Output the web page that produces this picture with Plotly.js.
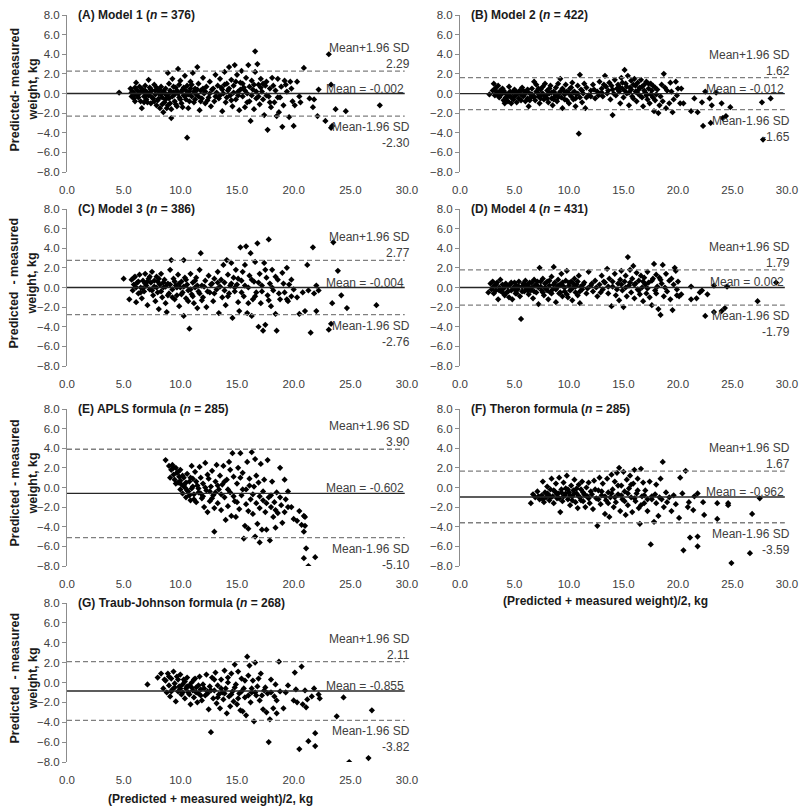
<!DOCTYPE html>
<html>
<head>
<meta charset="utf-8">
<script src="https://cdn.plot.ly/plotly-3.0.1.min.js"></script>
<style>
html,body{margin:0;padding:0;background:#fff;}
#chart{width:800px;height:808px;}
</style>
</head>
<body>
<div id="chart"></div>
<script>
// ---- Data ----
const panelLabels = ['(A) Model 1','(B) Model 2','(C) Model 3','(D) Model 4','(E) APLS formula','(F) Theron formula','(G) Traub-Johnson formula'];
const sampleSizes = [376, 422, 386, 431, 285, 285, 268];
const meanDiffs   = [-0.002, -0.012, -0.004, 0.002, -0.602, -0.962, -0.855];
const upperLimits = [2.29, 1.62, 2.77, 1.79, 3.90, 1.67, 2.11];
const lowerLimits = [-2.30, -1.65, -2.76, -1.79, -5.10, -3.59, -3.82];
const xTickVals = [0, 5, 10, 15, 20, 25, 30];
const yTickVals = [-8, -6, -4, -2, 0, 2, 4, 6, 8];
const yTitleFirstLines = ['Predicted- measured', 'Predicted  - measured', 'Predicted - measured', 'Predicted  - measured'];

const model1 = [[4.6,0.1],[5.6,0.5],[5.7,-0.3],[5.8,0.2],[5.9,-0.5],[6.0,0.6],[6.0,-0.1],[6.1,1.1],[6.2,0.3],[6.3,-0.4],[6.4,0.0],[6.5,-0.8],[6.6,0.5],[6.6,-1.5],[6.7,0.2],[6.8,-0.3],[6.9,0.8],[7.0,-0.6],[7.1,0.1],[7.2,1.4],[7.2,-0.2],[7.3,0.6],[7.4,-1.0],[7.5,0.3],[7.6,-0.5],[7.7,0.9],[7.8,-0.1],[7.9,-1.2],[8.0,0.4],[8.0,-0.7],[8.1,0.0],[8.2,-1.5],[8.3,0.7],[8.4,-0.4],[8.5,0.2],[8.5,-1.9],[8.6,-0.9],[8.7,0.5],[8.8,-0.2],[8.9,2.1],[8.9,-1.2],[9.0,1.0],[9.0,-0.5],[9.1,0.3],[9.2,-2.5],[9.2,-1.6],[9.3,1.5],[9.4,0.1],[9.5,-0.8],[9.6,0.6],[9.7,-1.3],[9.8,2.5],[9.8,0.0],[9.9,-0.4],[10.0,1.3],[10.1,-1.0],[10.2,0.4],[10.3,-0.2],[10.4,1.8],[10.5,-0.6],[10.6,-4.5],[10.6,0.8],[10.7,-1.5],[10.8,0.2],[10.9,1.2],[11.0,-0.3],[11.1,2.1],[11.2,-0.9],[11.3,0.5],[11.4,-0.1],[11.5,2.7],[11.6,1.0],[11.7,-1.7],[11.8,0.3],[11.9,-0.5],[12.0,1.6],[12.1,0.0],[12.2,-1.0],[12.3,0.7],[12.5,-0.4],[12.6,1.2],[12.7,-1.3],[12.8,0.4],[13.0,-0.8],[13.1,1.9],[13.2,0.1],[13.4,-0.5],[13.5,1.5],[13.6,0.6],[13.7,-1.8],[13.8,0.0],[13.9,2.2],[14.0,-0.9],[14.1,1.0],[14.2,0.3],[14.3,2.7],[14.4,-0.2],[14.5,1.4],[14.6,-1.3],[14.7,0.8],[14.8,2.9],[14.9,-0.6],[15.0,1.9],[15.1,0.2],[15.2,-1.7],[15.3,1.1],[15.4,2.3],[15.5,-0.3],[15.6,0.6],[15.7,-1.4],[15.8,1.6],[15.9,0.0],[16.0,2.9],[16.1,-0.8],[16.2,-2.8],[16.3,1.3],[16.4,0.4],[16.5,-1.6],[16.6,4.3],[16.6,2.2],[16.7,-0.5],[16.8,3.0],[16.9,0.9],[17.0,-1.1],[17.1,1.5],[17.2,0.2],[17.3,-0.6],[17.4,-2.2],[17.5,0.8],[17.6,1.2],[17.7,-3.7],[17.8,-0.3],[17.9,0.5],[18.0,-1.4],[18.1,1.6],[18.3,-0.9],[18.4,0.3],[18.5,-2.3],[18.6,1.5],[18.7,-1.9],[18.8,-0.4],[18.9,0.7],[19.0,-3.4],[19.1,-1.2],[19.2,1.3],[19.4,0.2],[19.6,-2.4],[19.7,1.2],[19.9,-0.8],[20.0,-3.3],[20.1,-1.2],[20.3,1.2],[20.5,-0.3],[20.6,-0.9],[20.9,2.6],[21.4,-0.5],[21.7,-1.4],[21.8,-0.6],[22.1,-2.3],[22.2,0.4],[22.8,-2.8],[23.1,4.0],[23.3,0.9],[23.3,-3.5],[23.4,-3.3],[23.7,-1.6],[24.6,-1.8],[27.6,-1.2],
  [5.7,0.1],[6.0,-0.8],[6.2,-0.2],[6.4,0.7],[6.5,0.2],[6.8,-0.9],[6.9,0.3],[7.0,-0.2],[7.1,-0.9],[7.3,0.0],[7.4,0.4],[7.5,-0.4],[7.7,-0.8],[7.8,0.3],[7.9,0.6],[8.1,-0.5],[8.2,0.4],[8.3,-0.1],[8.4,-1.1],[8.6,0.1],[8.7,-0.6],[8.8,-1.5],[9.0,0.0],[9.1,-1.0],[9.3,-0.3],[9.4,0.7],[9.5,-0.1],[9.6,-1.1],[9.7,0.3],[9.9,0.9],[10.0,-0.6],[10.1,0.2],[10.2,-1.4],[10.3,0.6],[10.4,-0.3],[10.5,0.3],[10.7,-0.1],[10.8,-0.8],[10.9,0.5],[11.0,0.9],[11.2,0.2],[11.3,-0.6],[11.5,0.4],[11.6,-0.3],[11.8,-0.8],[12.0,0.5],[12.2,0.2],[12.4,-0.7],[12.6,0.0],[12.9,0.5],[13.1,-0.3],[13.3,0.8],[13.5,-0.2],[13.7,0.4],[13.9,0.9],[14.1,-0.4],[14.3,0.5],[14.5,-0.7],[14.7,0.1],[14.9,1.2],[15.1,-0.2],[15.3,0.4],[15.5,1.0],[15.7,0.3],[15.9,-0.9],[16.1,0.7],[16.3,-0.2],[16.5,0.9],[16.7,0.2],[16.9,-0.3],[17.1,0.6],[17.3,1.0],[17.6,-0.2],[17.9,-0.9],[18.2,0.8],[18.6,-0.4],[19.3,0.9],[19.8,0.5]];

const model2 = [[2.7,-0.1],[3.0,0.3],[3.1,1.0],[3.2,-0.2],[3.3,0.6],[3.4,0.1],[3.5,0.8],[3.6,-0.4],[3.7,0.3],[3.8,-0.1],[3.9,0.5],[4.0,-0.7],[4.1,-1.0],[4.2,0.0],[4.3,-0.4],[4.4,-0.8],[4.5,0.7],[4.6,-0.3],[4.7,-1.0],[4.8,0.1],[4.9,-0.6],[5.0,0.4],[5.1,-0.2],[5.2,-0.9],[5.3,0.0],[5.4,-0.5],[5.5,0.3],[5.6,-0.7],[5.7,0.6],[5.8,-0.3],[5.9,-0.1],[6.0,-0.8],[6.1,0.2],[6.2,-0.5],[6.3,-1.3],[6.4,0.0],[6.5,-0.4],[6.6,0.5],[6.7,-0.2],[6.8,1.2],[6.9,-0.7],[7.0,0.9],[7.1,0.1],[7.2,-0.3],[7.3,-1.0],[7.4,0.4],[7.5,-0.1],[7.6,0.7],[7.7,-0.6],[7.8,1.0],[7.9,-0.2],[8.0,0.3],[8.1,-0.9],[8.2,0.0],[8.3,0.8],[8.4,-0.5],[8.5,-1.2],[8.6,0.2],[8.7,-0.3],[8.8,0.6],[8.9,-0.8],[9.0,1.0],[9.1,0.0],[9.2,1.5],[9.3,-0.4],[9.4,-1.5],[9.5,0.3],[9.6,-0.1],[9.7,0.9],[9.8,-0.7],[9.9,0.1],[10.0,-1.0],[10.1,0.5],[10.2,-0.3],[10.3,1.1],[10.4,-0.6],[10.5,0.2],[10.6,-1.3],[10.7,-0.1],[10.8,0.8],[10.9,-4.1],[11.0,1.9],[11.0,-0.4],[11.1,0.4],[11.2,-0.9],[11.3,0.0],[11.4,1.0],[11.5,-1.5],[11.6,0.6],[11.8,-0.2],[12.0,0.3],[12.2,0.9],[12.4,-0.5],[12.6,0.2],[12.8,1.2],[13.0,0.5],[13.1,-0.3],[13.3,1.8],[13.4,0.7],[13.5,0.0],[13.7,1.1],[13.8,-0.6],[14.0,-2.2],[14.0,0.4],[14.2,1.4],[14.3,-0.2],[14.5,0.9],[14.6,0.2],[14.7,-1.0],[14.8,1.6],[14.9,0.5],[15.0,-0.4],[15.1,2.4],[15.2,1.0],[15.3,0.0],[15.4,1.8],[15.5,-1.2],[15.6,0.6],[15.7,1.3],[15.8,-0.3],[15.9,0.9],[16.0,1.5],[16.1,0.2],[16.2,-0.8],[16.3,1.1],[16.4,0.4],[16.5,-0.2],[16.6,1.4],[16.7,0.7],[16.8,-1.3],[16.9,0.9],[17.0,0.1],[17.1,1.2],[17.2,-0.6],[17.3,0.5],[17.4,-1.0],[17.5,1.0],[17.6,0.3],[17.7,-0.4],[17.8,-1.8],[17.9,0.6],[18.0,-0.1],[18.2,-2.0],[18.3,-1.2],[18.5,0.9],[18.6,-0.8],[18.7,2.0],[18.9,-1.5],[19.0,0.3],[19.2,-1.0],[19.3,1.1],[19.5,-1.9],[19.6,-0.6],[19.8,1.2],[19.9,-0.2],[20.0,0.5],[20.2,-1.0],[20.3,0.5],[20.5,-1.0],[21.2,-1.8],[21.5,-0.5],[21.8,-1.9],[22.2,-0.9],[22.3,-3.3],[22.5,0.2],[22.9,-0.5],[23.0,-3.0],[23.1,-1.2],[23.5,0.1],[24.0,-1.0],[24.1,-2.5],[24.4,-2.3],[24.8,-1.4],[27.7,-0.9],[27.8,-4.7],[28.5,-0.5],
  [3.2,0.4],[3.5,-0.2],[3.8,0.2],[4.0,0.3],[4.2,-0.4],[4.4,-0.1],[4.6,0.2],[4.8,-0.5],[5.0,-0.3],[5.2,0.1],[5.4,0.2],[5.6,-0.1],[5.8,0.3],[6.0,0.0],[6.2,0.4],[6.4,-0.7],[6.6,-0.1],[6.8,-0.4],[7.0,0.2],[7.2,0.5],[7.4,-0.5],[7.6,0.0],[7.8,-0.3],[8.0,-0.5],[8.2,0.5],[8.4,0.1],[8.6,-0.6],[8.8,-0.1],[9.0,-0.4],[9.2,0.2],[9.4,0.5],[9.6,-0.6],[9.8,0.2],[10.0,0.0],[10.2,0.6],[10.4,0.1],[10.6,-0.5],[10.8,0.0],[11.2,0.3],[11.6,-0.4],[12.0,-0.3],[12.3,0.4],[12.7,-0.2],[13.0,0.1],[13.2,0.9],[13.6,0.3],[13.9,0.8],[14.1,0.0],[14.4,0.5],[14.7,0.6],[14.9,1.1],[15.1,0.3],[15.3,0.7],[15.5,0.1],[15.7,0.4],[15.9,-0.5],[16.1,0.8],[16.3,0.0],[16.5,0.6],[16.7,-0.4],[16.9,0.3],[17.1,-0.2],[17.3,1.0],[17.5,-0.1],[17.7,0.8],[17.9,-0.7],[18.1,0.4],[18.4,-0.3],[18.8,0.6],[19.4,0.2]];

const model3 = [[5.0,0.9],[5.5,-1.2],[5.7,0.8],[5.8,-0.3],[5.9,0.3],[6.0,1.1],[6.1,-1.5],[6.2,0.5],[6.3,-0.6],[6.4,1.3],[6.5,0.0],[6.6,-1.1],[6.7,0.7],[6.8,-0.4],[6.9,1.4],[7.0,0.2],[7.1,-1.8],[7.2,0.9],[7.3,-0.2],[7.4,0.5],[7.5,1.6],[7.6,-0.8],[7.7,0.1],[7.8,-1.4],[7.9,1.1],[8.0,-0.5],[8.0,0.6],[8.1,-2.2],[8.2,0.3],[8.3,1.4],[8.4,-1.0],[8.5,0.0],[8.6,0.8],[8.7,-1.6],[8.8,-2.5],[8.9,0.4],[9.0,-0.6],[9.1,1.8],[9.2,2.8],[9.3,-0.2],[9.4,0.9],[9.5,-1.2],[9.6,0.2],[9.7,-0.8],[9.8,1.3],[9.9,-1.9],[10.0,0.0],[10.1,0.6],[10.2,-0.5],[10.3,2.8],[10.3,-2.9],[10.4,1.0],[10.5,-1.1],[10.6,0.3],[10.7,-0.3],[10.8,-4.2],[10.9,1.4],[11.0,-0.7],[11.1,0.5],[11.2,-1.6],[11.3,0.0],[11.4,1.0],[11.5,-2.1],[11.6,-0.4],[11.7,1.8],[11.8,3.5],[11.9,0.2],[12.0,-1.0],[12.2,0.7],[12.3,-2.0],[12.5,1.2],[12.6,-0.5],[12.8,0.4],[12.9,-1.4],[13.0,0.9],[13.2,-0.2],[13.3,1.6],[13.4,-2.6],[13.5,0.1],[13.7,-1.0],[13.8,2.3],[13.9,0.5],[14.0,-1.8],[14.1,2.8],[14.2,1.3],[14.3,-0.6],[14.4,0.2],[14.5,2.5],[14.6,-3.1],[14.7,1.0],[14.8,-0.4],[14.9,1.8],[15.0,0.3],[15.1,-1.5],[15.2,-2.4],[15.3,4.1],[15.4,0.7],[15.5,1.6],[15.6,-0.9],[15.7,2.3],[15.8,4.2],[15.9,-2.6],[16.0,0.0],[16.1,1.2],[16.2,3.5],[16.3,-2.9],[16.4,-1.2],[16.5,0.6],[16.6,2.6],[16.7,-0.5],[16.8,4.5],[16.9,-4.0],[17.0,1.4],[17.1,-1.6],[17.2,0.2],[17.3,-4.4],[17.4,2.5],[17.5,-3.8],[17.6,1.0],[17.7,-0.8],[17.8,4.9],[17.9,0.4],[18.0,-1.9],[18.1,1.8],[18.2,-0.3],[18.4,-2.7],[18.5,-4.4],[18.6,0.8],[18.8,-1.2],[19.0,1.5],[19.2,-0.5],[19.4,2.0],[19.5,-1.4],[19.6,0.3],[19.8,-0.9],[20.0,-0.2],[20.3,-1.0],[20.5,-2.7],[20.8,-0.5],[21.0,-2.4],[21.2,2.3],[21.3,-0.3],[21.5,-4.6],[21.7,4.1],[21.8,-0.6],[22.0,0.2],[22.0,-2.4],[22.2,-0.3],[23.1,-4.3],[23.3,-3.7],[23.4,-1.6],[23.5,4.6],[23.9,1.7],[24.2,-0.8],[24.7,-2.1],[27.3,-1.8],
  [5.9,1.0],[6.1,0.0],[6.3,0.6],[6.5,-0.5],[6.7,-0.1],[6.9,0.4],[7.1,0.6],[7.3,1.1],[7.5,-0.3],[7.7,0.7],[7.9,0.0],[8.1,0.9],[8.3,-0.4],[8.5,0.5],[8.7,0.1],[8.9,-0.8],[9.1,0.3],[9.3,-1.0],[9.5,0.6],[9.7,0.0],[9.9,0.4],[10.1,-0.7],[10.3,0.1],[10.5,0.8],[10.7,-1.4],[10.9,-0.2],[11.1,-0.9],[11.3,0.7],[11.5,0.2],[11.7,-0.6],[11.9,-1.3],[12.1,0.1],[12.4,-0.4],[12.7,0.3],[13.0,-0.6],[13.3,0.5],[13.6,0.8],[13.9,-0.3],[14.2,-0.9],[14.5,0.4],[14.8,0.0],[15.1,0.9],[15.4,-0.5],[15.7,0.2],[16.0,-1.6],[16.3,0.8],[16.6,-0.9],[16.9,0.5],[17.2,-0.4],[17.5,1.8],[17.8,-1.3],[18.1,0.0],[18.4,1.1],[18.7,-0.6],[19.1,0.4],[19.4,-1.2],[19.8,0.8]];

const model4 = [[2.6,-0.5],[2.8,0.4],[2.9,-0.2],[3.0,0.6],[3.1,-0.6],[3.2,0.2],[3.3,-0.3],[3.4,0.5],[3.5,-1.2],[3.6,0.0],[3.7,0.8],[3.8,-0.4],[3.9,0.3],[4.0,-0.1],[4.1,-0.8],[4.2,0.4],[4.3,-0.5],[4.4,0.1],[4.5,-1.0],[4.6,0.3],[4.7,-0.3],[4.8,-1.2],[4.9,0.0],[5.0,0.5],[5.1,-0.6],[5.2,0.2],[5.3,-0.2],[5.4,0.6],[5.5,-0.9],[5.6,-3.2],[5.7,0.1],[5.8,0.4],[5.9,-0.4],[6.0,0.7],[6.1,-0.1],[6.2,0.3],[6.3,-0.7],[6.4,0.5],[6.5,-0.3],[6.6,0.0],[6.7,-1.1],[6.8,0.8],[6.9,0.2],[7.0,-0.5],[7.1,0.6],[7.2,-1.7],[7.3,2.0],[7.4,0.1],[7.5,-0.3],[7.6,0.9],[7.7,-0.8],[7.8,0.4],[7.9,-0.1],[8.0,0.6],[8.1,-1.2],[8.2,0.2],[8.3,-0.5],[8.4,1.1],[8.5,-0.2],[8.6,2.1],[8.7,0.5],[8.8,-1.5],[8.9,0.0],[9.0,0.8],[9.1,-0.6],[9.2,0.3],[9.3,1.4],[9.4,-0.9],[9.5,0.1],[9.6,-0.4],[9.7,0.7],[9.8,1.7],[9.9,-1.0],[10.0,0.2],[10.1,-0.3],[10.2,0.6],[10.3,-1.3],[10.4,0.0],[10.5,0.9],[10.6,-0.5],[10.7,0.3],[10.8,-0.8],[10.9,1.2],[11.0,-1.6],[11.1,0.1],[11.2,-0.2],[11.4,0.5],[11.6,-0.6],[11.8,1.6],[12.0,0.2],[12.2,-0.4],[12.4,0.7],[12.6,-0.9],[12.8,0.3],[13.0,1.2],[13.1,-0.2],[13.3,0.5],[13.5,1.9],[13.6,-0.6],[13.7,0.9],[13.9,-1.9],[14.0,0.1],[14.2,1.4],[14.3,-0.8],[14.5,0.4],[14.6,-1.3],[14.7,0.8],[14.8,1.7],[14.9,-0.3],[15.0,-2.0],[15.1,0.6],[15.2,1.2],[15.3,-0.9],[15.4,3.1],[15.5,0.2],[15.6,1.8],[15.7,-0.5],[15.8,0.9],[15.9,2.2],[16.0,-1.1],[16.1,0.4],[16.2,1.5],[16.3,-0.2],[16.4,0.7],[16.5,-0.7],[16.6,1.2],[16.7,0.0],[16.8,-1.4],[16.9,1.0],[17.0,0.3],[17.1,-0.6],[17.2,1.6],[17.3,0.5],[17.4,-1.0],[17.6,-1.8],[17.7,0.9],[17.8,2.4],[17.9,-0.3],[18.0,1.3],[18.1,0.1],[18.2,-2.2],[18.3,1.0],[18.4,-2.8],[18.5,0.4],[18.6,2.3],[18.7,-0.9],[18.9,1.4],[19.0,-0.4],[19.2,0.7],[19.3,-1.2],[19.5,-2.3],[19.6,0.3],[19.7,2.0],[19.8,1.7],[19.9,-0.2],[20.0,0.6],[20.1,-0.9],[20.3,-0.7],[21.2,0.1],[21.2,-1.2],[21.7,-1.1],[22.0,-0.5],[22.2,-0.3],[22.5,-2.9],[22.7,-0.7],[23.3,-2.5],[23.3,0.2],[24.0,-2.4],[24.3,-2.1],[24.5,0.1],[27.3,-1.4],[29.0,0.5],
  [3.0,0.0],[3.3,0.3],[3.6,-0.3],[3.9,-0.5],[4.1,0.2],[4.4,-0.4],[4.7,0.5],[5.0,-0.2],[5.2,-0.6],[5.4,0.1],[5.7,-0.4],[6.0,0.2],[6.2,-0.3],[6.4,0.0],[6.6,0.5],[6.8,-0.4],[7.0,0.3],[7.2,0.0],[7.4,0.6],[7.6,-0.5],[7.8,0.0],[8.0,-0.3],[8.2,0.7],[8.4,-0.6],[8.6,0.3],[8.8,-0.2],[9.0,0.2],[9.2,-0.5],[9.4,0.5],[9.6,0.0],[9.8,-0.7],[10.0,0.5],[10.2,-0.2],[10.4,0.4],[10.6,0.1],[10.8,0.6],[11.0,-0.4],[11.3,0.3],[11.7,-0.1],[12.1,0.4],[12.5,0.0],[12.9,-0.5],[13.2,0.6],[13.6,0.1],[14.0,0.6],[14.4,-0.2],[14.8,0.3],[15.2,0.0],[15.6,0.5],[16.0,0.3],[16.4,-0.3],[16.8,0.6],[17.2,-0.1],[17.6,0.7],[18.0,-0.6],[18.4,0.8],[18.8,0.0],[19.4,0.9],[19.9,-0.8]];

const aplsFormula = [[8.7,2.8],[9.0,2.2],[9.2,1.8],[9.3,2.3],[9.4,1.3],[9.5,0.8],[9.6,2.0],[9.7,1.5],[9.8,0.5],[9.9,1.1],[10.0,-0.2],[10.0,1.8],[10.1,0.3],[10.2,-0.6],[10.3,1.0],[10.4,0.0],[10.5,-1.0],[10.6,1.4],[10.7,-0.4],[10.8,0.6],[10.9,-1.3],[11.0,2.2],[11.0,-0.1],[11.1,0.9],[11.2,-0.7],[11.3,1.6],[11.4,-1.5],[11.5,0.2],[11.6,-0.5],[11.7,2.1],[11.8,1.0],[11.9,-1.1],[12.0,0.4],[12.1,-2.0],[12.2,2.5],[12.3,-0.3],[12.4,-2.5],[12.5,0.9],[12.6,-1.4],[12.7,0.1],[12.8,1.7],[12.9,-0.8],[13.0,-4.5],[13.0,-2.1],[13.1,0.6],[13.2,2.3],[13.3,-1.6],[13.4,-0.2],[13.5,1.2],[13.6,-2.3],[13.7,0.3],[13.8,2.2],[13.9,-1.0],[14.0,-3.3],[14.1,0.8],[14.2,-1.9],[14.3,2.6],[14.4,-0.5],[14.5,-2.9],[14.6,3.5],[14.7,1.1],[14.8,-1.4],[14.9,-3.0],[15.0,0.4],[15.1,2.0],[15.2,-2.2],[15.3,3.5],[15.4,-0.8],[15.5,1.5],[15.6,-5.2],[15.7,-3.9],[15.8,-0.2],[15.9,2.6],[16.0,-4.2],[16.0,-2.4],[16.1,0.9],[16.2,-1.2],[16.3,3.6],[16.4,-2.7],[16.5,0.1],[16.6,-5.0],[16.6,2.9],[16.7,-1.6],[16.8,-3.7],[16.9,0.5],[17.0,-5.6],[17.0,-0.9],[17.1,2.4],[17.2,-4.3],[17.3,-1.3],[17.4,0.8],[17.5,-2.5],[17.6,-4.3],[17.7,2.8],[17.8,-1.0],[17.9,-5.4],[18.0,-2.0],[18.1,0.6],[18.2,-3.0],[18.3,-1.5],[18.4,-4.1],[18.5,-0.5],[18.6,-2.6],[18.8,2.0],[18.9,-1.8],[19.0,-3.6],[19.2,0.8],[19.3,-1.2],[19.5,-0.4],[19.5,-2.0],[19.8,-2.0],[20.0,-3.2],[20.3,-3.4],[20.5,-2.4],[20.7,-3.8],[20.9,-2.9],[20.9,-4.5],[21.0,-3.0],[21.0,-3.9],[21.1,-6.2],[20.9,-7.2],[21.3,-8.0],[21.9,-7.1],
  [9.1,1.0],[9.4,2.0],[9.6,0.4],[9.8,1.6],[10.0,0.7],[10.2,1.2],[10.3,0.2],[10.5,0.5],[10.6,-0.3],[10.8,-0.8],[10.9,1.0],[11.1,0.1],[11.2,-1.2],[11.4,0.6],[11.6,-0.1],[11.8,-0.6],[12.0,-0.9],[12.2,0.0],[12.4,1.3],[12.6,-0.4],[12.8,-1.1],[13.1,-0.5],[13.3,0.2],[13.6,-0.7],[13.9,0.6],[14.2,-0.2],[14.4,1.8],[14.7,-0.9],[15.0,-1.5],[15.3,1.0],[15.5,-0.2],[15.8,-1.7],[16.1,0.2],[16.4,-0.7],[16.7,1.2],[17.0,-2.1],[17.3,-0.4],[17.6,-1.6],[18.0,-0.8],[18.4,-2.3],[18.8,-1.0],[19.2,-2.5]];

const theronFormula = [[6.5,-1.6],[6.7,-0.7],[6.9,-1.0],[7.1,-0.4],[7.3,-1.2],[7.5,-0.8],[7.6,0.6],[7.7,-1.5],[7.8,-0.5],[7.9,-1.0],[8.0,0.1],[8.1,-0.7],[8.2,-1.3],[8.3,-0.2],[8.4,0.9],[8.5,-0.9],[8.6,-1.6],[8.7,-0.4],[8.8,0.4],[8.9,-1.1],[9.0,-0.6],[9.1,1.0],[9.2,-2.5],[9.3,-0.2],[9.4,-1.4],[9.5,0.5],[9.6,-0.8],[9.7,-0.1],[9.8,1.2],[9.9,-1.2],[10.0,-0.5],[10.1,-1.8],[10.2,0.2],[10.3,-0.9],[10.4,-0.3],[10.5,0.8],[10.6,-1.5],[10.7,-0.6],[10.8,-2.1],[10.9,0.3],[11.0,-1.0],[11.1,-0.2],[11.2,0.6],[11.3,-1.4],[11.4,-0.7],[11.5,-2.0],[11.6,0.0],[11.7,-0.9],[11.8,0.5],[11.9,-1.6],[12.0,-0.4],[12.2,-2.2],[12.3,0.7],[12.5,-1.1],[12.6,-3.9],[12.7,-0.3],[12.8,1.0],[12.9,-1.7],[13.0,-0.8],[13.1,0.4],[13.3,-2.7],[13.4,-1.3],[13.5,0.9],[13.6,-0.5],[13.7,-3.0],[13.8,-1.0],[13.9,1.3],[14.0,-0.2],[14.1,-2.0],[14.2,0.6],[14.3,-1.5],[14.4,1.5],[14.5,-0.7],[14.6,2.0],[14.7,-2.4],[14.8,0.2],[14.9,-1.2],[15.0,1.6],[15.1,-0.4],[15.2,-2.8],[15.3,0.8],[15.4,-1.8],[15.5,-0.1],[15.6,1.2],[15.7,-1.0],[15.8,-2.5],[15.9,0.4],[16.0,1.8],[16.1,-1.4],[16.2,-0.6],[16.3,0.9],[16.4,-2.1],[16.5,-3.7],[16.6,1.9],[16.7,-0.9],[16.8,0.5],[16.9,-1.6],[17.0,-0.3],[17.2,-2.4],[17.4,0.6],[17.5,-5.8],[17.6,-1.2],[17.8,-3.5],[17.9,-0.7],[18.0,0.3],[18.2,-2.9],[18.3,-1.0],[18.4,0.9],[18.6,2.6],[18.7,-2.0],[18.9,-0.5],[19.2,-1.0],[19.4,-2.4],[19.6,-0.8],[19.8,-1.7],[20.1,-3.1],[20.2,1.0],[20.4,-0.6],[20.5,-6.4],[20.7,1.7],[20.9,-2.0],[21.0,-1.5],[21.1,-5.1],[21.4,-2.3],[21.5,-0.9],[21.8,-5.0],[21.8,-6.0],[21.8,-0.6],[22.3,-1.5],[22.4,-2.8],[23.6,-3.2],[23.6,-1.6],[24.6,-1.6],[24.6,-1.8],[24.9,-7.7],[26.6,-6.7],[26.8,-2.7],[27.5,-1.1],
  [7.2,-0.9],[7.6,-1.2],[8.0,-0.6],[8.3,-1.0],[8.6,-0.3],[8.9,-0.7],[9.1,-1.1],[9.3,-0.5],[9.5,-0.9],[9.7,-0.6],[9.9,-0.2],[10.1,-0.8],[10.3,-1.3],[10.5,-0.6],[10.7,-0.1],[10.9,-0.9],[11.1,-1.3],[11.3,-0.5],[11.5,-0.8],[11.8,-1.1],[12.1,-0.7],[12.4,-0.2],[12.7,-1.2],[13.0,-0.4],[13.3,-0.9],[13.6,-1.6],[13.9,-0.6],[14.2,-1.0],[14.5,0.2],[14.8,-0.8],[15.1,-1.4],[15.4,-0.6],[15.7,0.3],[16.0,-1.1],[16.3,-0.3],[16.6,-1.8],[16.9,-0.8],[17.2,-1.2],[17.6,-0.9],[18.0,-1.6],[18.5,-1.2],[19.0,-1.5]];

const traubJohnsonFormula = [[7.1,-0.2],[8.0,0.5],[8.3,0.9],[8.5,-0.6],[8.7,0.2],[8.8,-1.0],[8.9,0.9],[9.0,-0.3],[9.1,-1.4],[9.2,0.4],[9.3,-0.7],[9.4,1.1],[9.5,-0.1],[9.6,-1.9],[9.7,0.6],[9.8,-0.9],[9.9,-0.4],[10.0,0.8],[10.1,-1.2],[10.2,-0.2],[10.3,0.3],[10.4,-1.6],[10.5,-0.6],[10.6,0.5],[10.7,-1.0],[10.8,-0.3],[10.9,-2.2],[11.0,0.0],[11.1,-0.8],[11.2,-1.5],[11.3,0.4],[11.4,-0.5],[11.5,-2.0],[11.6,-1.1],[11.7,0.6],[11.8,-0.7],[11.9,-1.8],[12.0,-0.2],[12.2,-1.3],[12.3,0.8],[12.4,-0.9],[12.5,-2.7],[12.6,-0.4],[12.7,-5.0],[12.8,0.5],[12.9,-1.6],[13.0,-0.8],[13.1,1.0],[13.2,-2.1],[13.3,-0.3],[13.4,-1.2],[13.5,-2.6],[13.6,0.3],[13.7,-1.0],[13.8,-1.7],[13.9,1.2],[14.0,-0.6],[14.1,-3.1],[14.2,0.0],[14.3,-1.4],[14.4,-2.4],[14.5,0.9],[14.6,-0.9],[14.7,-1.9],[14.8,1.8],[14.9,-0.2],[15.0,-2.2],[15.1,1.1],[15.2,-1.1],[15.3,-2.8],[15.4,0.4],[15.5,-2.9],[15.6,-0.6],[15.7,-1.5],[15.8,-3.3],[15.9,2.6],[16.0,0.7],[16.1,1.7],[16.2,-2.0],[16.3,-1.0],[16.4,0.2],[16.5,-3.9],[16.6,2.0],[16.7,-1.3],[16.8,-0.4],[17.0,-1.8],[17.1,0.9],[17.3,-2.7],[17.4,-0.8],[17.6,-3.0],[17.7,-1.1],[17.8,-6.0],[17.9,-3.7],[18.0,0.3],[18.2,-2.6],[18.3,-1.4],[18.4,-0.2],[18.5,-3.1],[18.7,2.1],[18.8,-0.9],[19.1,-2.6],[19.3,-1.0],[19.5,-0.3],[20.0,-1.8],[20.1,1.0],[20.2,-0.7],[20.3,-2.0],[20.5,-6.7],[20.7,1.6],[20.8,-2.2],[21.0,-0.8],[21.1,-2.5],[21.2,-1.7],[21.3,-5.9],[21.6,-1.4],[21.8,-0.6],[21.9,-5.1],[21.9,-6.4],[22.2,-1.2],[22.3,-1.6],[23.8,-3.4],[24.4,-1.5],[24.9,-8.0],[26.6,-7.6],[26.9,-2.8],
  [8.6,0.3],[9.0,0.6],[9.2,-0.9],[9.5,-0.5],[9.8,0.3],[10.0,-0.6],[10.2,-1.0],[10.4,0.1],[10.6,-0.4],[10.8,-1.2],[11.0,-0.5],[11.2,0.3],[11.4,-1.0],[11.6,-0.3],[11.8,-1.3],[12.1,-0.6],[12.4,-1.1],[12.7,-0.8],[13.0,0.3],[13.3,-1.5],[13.6,-0.6],[13.9,-1.1],[14.2,0.5],[14.5,-1.2],[14.8,-0.5],[15.1,-1.6],[15.4,-0.9],[15.7,0.2],[16.0,-1.3],[16.3,-0.6],[16.6,-1.0],[16.9,0.4],[17.2,-1.3],[17.5,-0.5],[18.0,-1.0],[18.5,-1.8]];

const panelPoints = [model1, model2, model3, model4, aplsFormula, theronFormula, traubJohnsonFormula];

// ---- Layout geometry (pixels in an 800x808 page) ----
const W = 800, H = 808;
const colPx = [[67, 407], [460, 787]];
const rowPx = [[15, 172], [209, 366], [409, 566], [603, 762]];
const FONT = 'Liberation Sans, Arial, Helvetica, sans-serif';
const textColor = '#404040';

const traces = [];
const shapes = [];
const annotations = [];
const layout = {
  width: W, height: H,
  margin: {l: 0, r: 0, t: 0, b: 0, pad: 0},
  paper_bgcolor: '#fff', plot_bgcolor: '#fff',
  showlegend: false, hovermode: false,
  font: {family: FONT, size: 11, color: textColor}
};

panelPoints.forEach((pts, i) => {
  const row = Math.floor(i / 2), col = i % 2;
  const xid = i === 0 ? 'x' : 'x' + (i + 1);
  const yid = i === 0 ? 'y' : 'y' + (i + 1);
  const xKey = i === 0 ? 'xaxis' : 'xaxis' + (i + 1);
  const yKey = i === 0 ? 'yaxis' : 'yaxis' + (i + 1);
  const cx = colPx[col], ry = rowPx[row];
  layout[xKey] = {
    domain: [cx[0] / W, cx[1] / W], anchor: yid,
    range: [0, 30], tickvals: xTickVals, tickformat: '.1f',
    showline: false, zeroline: false, showgrid: false,
    ticks: 'outside', ticklen: 7, tickcolor: 'rgba(0,0,0,0)',
    tickfont: {family: FONT, size: 11.5, color: textColor}
  };
  layout[yKey] = {
    domain: [1 - ry[1] / H, 1 - ry[0] / H], anchor: xid,
    range: [-8, 8], tickvals: yTickVals, tickformat: '.1f',
    showline: true, linecolor: '#8c8c8c', linewidth: 1,
    zeroline: false, showgrid: false,
    ticks: 'outside', ticklen: 4, tickcolor: '#8c8c8c', tickwidth: 1,
    tickfont: {family: FONT, size: 11.5, color: textColor}
  };
  traces.push({
    type: 'scatter', mode: 'markers', xaxis: xid, yaxis: yid,
    x: pts.map(p => p[0]), y: pts.map(p => p[1]),
    marker: {symbol: 'diamond', size: 4.8, color: '#000'}
  });
  // limit lines
  [upperLimits[i], lowerLimits[i]].forEach(v => {
    shapes.push({type: 'line', xref: xid, yref: yid, x0: 0, x1: 29.8, y0: v, y1: v,
      line: {color: '#7f7f7f', width: 1.3, dash: '5px,3px'}});
  });
  shapes.push({type: 'line', xref: xid, yref: yid, x0: 0, x1: 29.8, y0: meanDiffs[i], y1: meanDiffs[i],
    line: {color: '#262626', width: 1.4}});
  // labels
  annotations.push({xref: xid, yref: yid, x: 0, y: 8, xanchor: 'left', yanchor: 'middle', xshift: 9,
    showarrow: false, font: {family: FONT, size: 12, color: '#1a1a1a'},
    text: '<b>' + panelLabels[i] + ' (<i>n</i> = ' + sampleSizes[i] + ')</b>'});
  annotations.push({xref: xid, yref: yid, x: 30, y: upperLimits[i], xanchor: 'right', yanchor: 'bottom',
    xshift: 5, yshift: -2, align: 'right', showarrow: false, font: {family: FONT, size: 12, color: textColor},
    text: 'Mean+1.96 SD<br>' + upperLimits[i].toFixed(2)});
  annotations.push({xref: xid, yref: yid, x: 30, y: lowerLimits[i], xanchor: 'right', yanchor: 'top',
    xshift: 5, yshift: -2, align: 'right', showarrow: false, font: {family: FONT, size: 12, color: textColor},
    text: 'Mean-1.96 SD<br>' + lowerLimits[i].toFixed(2)});
  annotations.push({xref: xid, yref: yid, x: 30, y: meanDiffs[i], xanchor: 'right', yanchor: 'bottom',
    xshift: -1, yshift: -4, showarrow: false, font: {family: FONT, size: 12, color: textColor},
    text: 'Mean = ' + meanDiffs[i].toFixed(3)});
});

// y-axis titles (left column only)
rowPx.forEach((ry, r) => {
  const yc = 1 - ((ry[0] + ry[1]) / 2 - 4) / H;
  annotations.push({xref: 'paper', yref: 'paper', x: 14 / W, y: yc, xanchor: 'center', yanchor: 'middle',
    textangle: -90, showarrow: false, font: {family: FONT, size: 12.5, color: '#1a1a1a'},
    text: '<b>' + yTitleFirstLines[r] + '</b>'});
  annotations.push({xref: 'paper', yref: 'paper', x: 32 / W, y: yc, xanchor: 'center', yanchor: 'middle',
    textangle: -90, showarrow: false, font: {family: FONT, size: 12.5, color: '#1a1a1a'},
    text: '<b>weight, kg</b>'});
});

// x-axis titles (under panels F and G)
const xTitle = '<b>(Predicted + measured weight)/2, kg</b>';
annotations.push({xref: 'paper', yref: 'paper', x: 605 / W, y: 1 - 601 / H, xanchor: 'center', yanchor: 'middle',
  showarrow: false, font: {family: FONT, size: 12, color: '#1a1a1a'}, text: xTitle});
annotations.push({xref: 'paper', yref: 'paper', x: 210 / W, y: 1 - 799 / H, xanchor: 'center', yanchor: 'middle',
  showarrow: false, font: {family: FONT, size: 12, color: '#1a1a1a'}, text: xTitle});

layout.shapes = shapes;
layout.annotations = annotations;

Plotly.newPlot('chart', traces, layout, {displayModeBar: false, staticPlot: true});
</script>
</body>
</html>
